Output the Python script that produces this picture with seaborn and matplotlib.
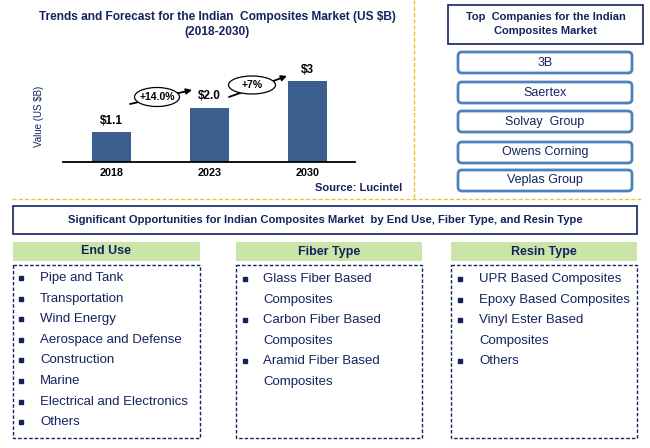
import matplotlib
matplotlib.use("Agg")
import matplotlib.pyplot as plt
import seaborn as sns
import pandas as pd
from matplotlib.patches import Rectangle, FancyBboxPatch, Ellipse

# ---------------- data ----------------
years = ["2018", "2023", "2030"]
values = [1.1, 2.0, 3.0]
value_labels = ["$1.1", "$2.0", "$3"]
growth_labels = ["+14.0%", "+7%"]
companies = ["3B", "Saertex", "Solvay  Group", "Owens Corning", "Veplas Group"]
end_use = ["Pipe and Tank", "Transportation", "Wind Energy", "Aerospace and Defense",
           "Construction", "Marine", "Electrical and Electronics", "Others"]
fiber_type = ["Glass Fiber Based", "Composites", "Carbon Fiber Based", "Composites",
              "Aramid Fiber Based", "Composites"]
fiber_bullets = [True, False, True, False, True, False]
resin_type = ["UPR Based Composites", "Epoxy Based Composites", "Vinyl Ester Based",
              "Composites", "Others"]
resin_bullets = [True, True, True, False, True]

sns.set_theme(style="white")
plt.rcParams['font.family'] = ['Liberation Sans', 'DejaVu Sans']

NAVY = "#14235E"
BAR = "#3A5F8F"
W, H = 650, 448
fig = plt.figure(figsize=(6.5, 4.48), dpi=100)

# ---------------- bar chart ----------------
ax = fig.add_axes([63 / W, (H - 162) / H, 292 / W, 92 / H])
df = pd.DataFrame({"year": years, "value": values})
sns.barplot(data=df, x="year", y="value", color=BAR, width=0.4, ax=ax,
            saturation=1, edgecolor="none")
ax.set_xlim(-0.495, 2.485)
ax.set_ylim(0, 3.41)
for s in ["top", "right", "left"]:
    ax.spines[s].set_visible(False)
ax.spines["bottom"].set_color("black")
ax.spines["bottom"].set_linewidth(1.3)
ax.set_yticks([])
ax.set_xlabel("")
ax.set_ylabel("Value (US $B)", fontsize=7, color=NAVY, labelpad=14)
ax.tick_params(axis="x", length=0, pad=4)
for lbl in ax.get_xticklabels():
    lbl.set_fontweight("bold")
    lbl.set_fontsize(7.8)
    lbl.set_color("black")
ax.patch.set_alpha(0)
for i, (v, t) in enumerate(zip(values, value_labels)):
    ax.annotate(t, (i, v), xytext=(0, 4), textcoords="offset points",
                ha="center", va="bottom", fontsize=8.5, fontweight="bold", color="black")

# ---------------- overlay ----------------
ov = fig.add_axes([0, 0, 1, 1])
ov.set_xlim(0, W)
ov.set_ylim(H, 0)
ov.axis("off")
ov.patch.set_alpha(0)

ov.text(217, 17, "Trends and Forecast for the Indian  Composites Market (US $B)",
        ha="center", va="center", fontsize=8.6, fontweight="bold", color=NAVY)
ov.text(217, 32, "(2018-2030)", ha="center", va="center", fontsize=8.6,
        fontweight="bold", color=NAVY)
ov.text(402, 188, "Source: Lucintel", ha="right", va="center", fontsize=8,
        fontweight="bold", color=NAVY)

# growth ellipses and arrows
ell = [(157, 97, 45, 19), (252, 85, 47, 18)]
arrows = [((130, 104), (192, 90)), ((229, 97), (287, 76))]
for (cx, cy, ew, eh), ((x0, y0), (x1, y1)), g in zip(ell, arrows, growth_labels):
    ov.annotate("", xy=(x1, y1), xytext=(x0, y0),
                arrowprops=dict(arrowstyle="-|>", color="black", lw=1.3,
                                mutation_scale=8, shrinkA=0, shrinkB=0))
    ov.add_patch(Ellipse((cx, cy), ew, eh, facecolor="white", edgecolor="black",
                         lw=0.9, zorder=3))
    ov.text(cx, cy, g, ha="center", va="center", fontsize=7.5, fontweight="bold",
            color="black", zorder=4)

# yellow dashed separators
ov.plot([12, 641], [199, 199], color="#F2C12E", lw=1, ls=(0, (3, 1.5)))
ov.plot([414, 414], [0, 199], color="#F2C12E", lw=1, ls=(0, (3, 1.5)))

# top companies
ov.add_patch(Rectangle((448, 5), 195, 39, facecolor="white", edgecolor=NAVY, lw=1.2))
ov.text(545.5, 17, "Top  Companies for the Indian", ha="center", va="center",
        fontsize=8, fontweight="bold", color=NAVY)
ov.text(545.5, 31, "Composites Market", ha="center", va="center",
        fontsize=8, fontweight="bold", color=NAVY)
box_tops = [52, 82, 111, 142, 170]
for top, name in zip(box_tops, companies):
    ov.add_patch(FancyBboxPatch((458, top), 174, 21,
                                boxstyle="round,pad=0,rounding_size=4",
                                facecolor="white", edgecolor="#4F81BD", lw=2))
    ov.text(545, top + 10.5, name, ha="center", va="center", fontsize=9, color=NAVY)

# opportunities title
ov.add_patch(Rectangle((12.5, 206), 624.5, 28, facecolor="white", edgecolor=NAVY, lw=1.2))
ov.text(325, 220, "Significant Opportunities for Indian Composites Market  by End Use, "
        "Fiber Type, and Resin Type", ha="center", va="center", fontsize=8.1,
        fontweight="bold", color=NAVY)

cols = [(12.5, 187.5, "End Use"), (236, 186, "Fiber Type"), (451, 186, "Resin Type")]
for x0, w, title in cols:
    ov.add_patch(Rectangle((x0, 242), w, 19, facecolor="#C9E5A8", edgecolor="none"))
    ov.text(x0 + w / 2, 251.5, title, ha="center", va="center", fontsize=9,
            fontweight="bold", color=NAVY)
    ov.add_patch(Rectangle((x0, 265), w, 173, facecolor="white", edgecolor=NAVY,
                           lw=1, ls=(0, (2.5, 1.5))))

def draw_list(items, bullets, xb, xt, y0, step):
    for k, (t, b) in enumerate(zip(items, bullets)):
        y = y0 + k * step
        if b:
            ov.plot([xb], [y], marker="s", markersize=2.2, color=NAVY, ls="none")
        ov.text(xt, y, t, ha="left", va="center", fontsize=9.5, color=NAVY)

draw_list(end_use, [True] * len(end_use), 21, 40, 278, 20.6)
draw_list(fiber_type, fiber_bullets, 245, 263, 279, 20.6)
draw_list(resin_type, resin_bullets, 460, 479, 279, 20.6)

fig.savefig("out.png", dpi=100)
